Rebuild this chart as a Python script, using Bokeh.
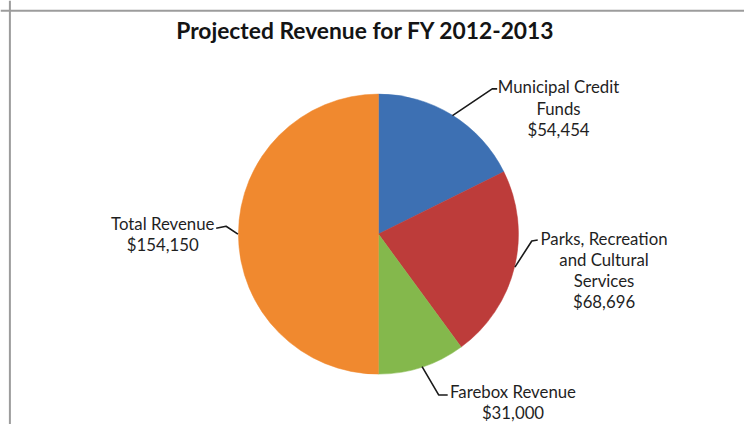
import math
from bokeh.plotting import figure
from bokeh.models import Range1d, Span
from bokeh.core.properties import value
from bokeh.embed import file_html
from bokeh.resources import INLINE

# ---- data ----
title = "Projected Revenue for FY 2012-2013"
categories = ["Municipal Credit\nFunds", "Parks, Recreation\nand Cultural\nServices",
              "Farebox Revenue", "Total Revenue"]
amounts = [54454, 68696, 31000, 154150]
colors = ["#3d70b3", "#bd3c3a", "#84b84c", "#f0892f"]

# ---- layout (reference pixel space 752x432: x right, py down) ----
W, H = 744, 424
REF_W, REF_H = 752, 432
CX, CY, R = 382, 238, 142
label_pos = [(564, 88), (610, 242), (518, 398), (164, 227)]   # center x, first line y
leader_mid = [[(497, 90), (502, 90)], [(537, 245), (543, 244)],
              [(443, 402), (452, 402)], [(228, 230), (218, 232)]]
LINE_H = 21.7
FONT = "Lato"

def X(px):
    return px * W / REF_W

def Y(py):
    return H - py * H / REF_H

p = figure(width=W, height=H, output_backend="svg", toolbar_location=None,
           x_range=Range1d(0, W), y_range=Range1d(0, H), min_border=0)
p.axis.visible = False
p.grid.visible = False
p.outline_line_color = None
p.background_fill_color = "white"
p.border_fill_color = "white"

p.add_layout(Span(location=X(9.5), dimension="height", line_color="#9c9c9c", line_width=2))
p.add_layout(Span(location=Y(10.5), dimension="width", line_color="#9c9c9c", line_width=2))

total = sum(amounts)
cum = 0.0
for i, amt in enumerate(amounts):
    frac0 = cum / total
    cum += amt
    frac1 = cum / total
    start = math.pi / 2 - 2 * math.pi * frac0
    end = math.pi / 2 - 2 * math.pi * frac1
    p.wedge(x=[X(CX)], y=[Y(CY)], radius=R * 0.986, radius_units="screen",
            start_angle=[start], end_angle=[end], direction="clock",
            fill_color=colors[i], line_color=colors[i], line_width=0.5)
    mid = (frac0 + frac1) / 2 * 2 * math.pi
    ax = CX + R * math.sin(mid)
    ay = CY - R * math.cos(mid)
    pts = [(ax, ay)] + leader_mid[i]
    p.line([X(q[0]) for q in pts], [Y(q[1]) for q in pts], line_color="#1a1a1a", line_width=1.6)

    lines = categories[i].split("\n") + [f"${amt:,}"]
    lx, ly = label_pos[i]
    p.text(x=[X(lx)] * len(lines), y=[Y(ly + k * LINE_H) for k in range(len(lines))], text=lines,
           text_align="center", text_baseline="middle", text_font=value(FONT),
           text_font_size="16.8px", text_color="#1f1f1f")

p.text(x=[X(369)], y=[Y(30)], text=[title], text_align="center", text_baseline="middle",
       text_font=value(FONT), text_font_style="bold", text_font_size="22.8px", text_color="#141414")

open("out.html", "w").write(file_html(p, INLINE))
